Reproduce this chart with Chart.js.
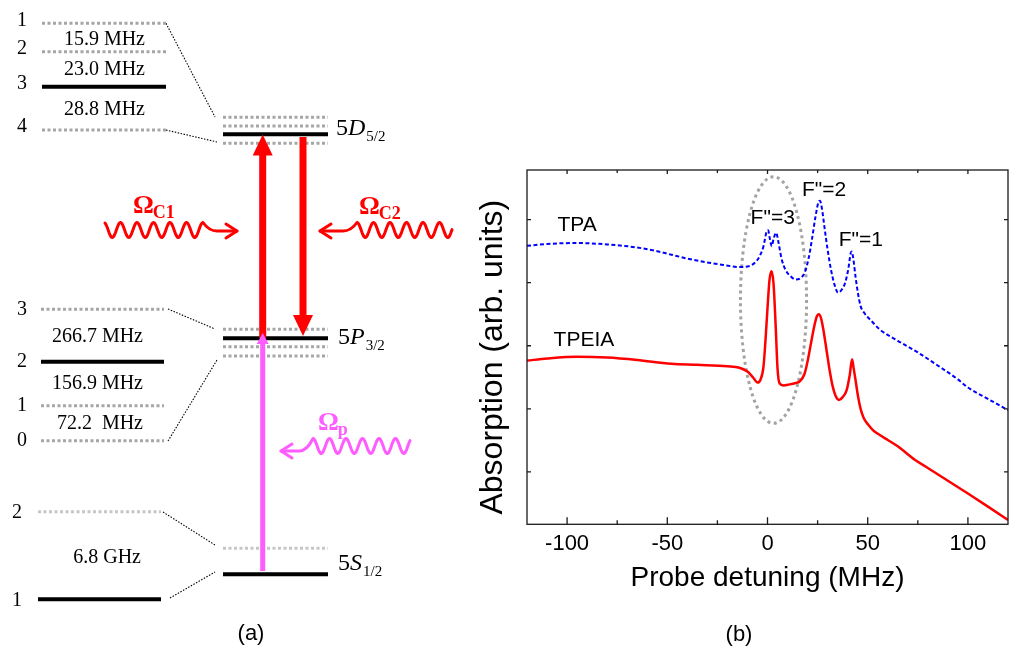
<!DOCTYPE html>
<html>
<head>
<meta charset="utf-8">
<script src="https://cdn.jsdelivr.net/npm/chart.js@4.4.1/dist/chart.umd.min.js"></script>
<style>
  html, body { margin: 0; padding: 0; background: #fff; }
  #wrap { position: relative; width: 1009px; height: 649px; overflow: hidden; background: #fff; }
  #levels { position: absolute; left: 0; top: 0; }
  #spectrum { position: absolute; left: 470px; top: 0; }
</style>
</head>
<body>
<div id="wrap">
  <canvas id="levels" width="470" height="649"></canvas>
  <canvas id="spectrum" width="539" height="649"></canvas>
</div>
<script>
// ---------- (b) spectra ----------
const tpaDetuning = [-120, -110, -96, -80, -66, -56, -48, -40, -31, -22, -14, -9, -6, -4, -2, -0.5, 0.3, 1.2, 2.1, 3, 4.3, 5.5, 7, 9, 11.5, 14, 16.5, 18.5, 20.5, 22.2, 24, 25.5, 26.2, 27.2, 28.5, 30, 31.7, 33.5, 35.2, 37, 38.7, 40.3, 41.5, 42, 42.8, 43.9, 45.2, 46.5, 48.5, 52, 56, 65, 75, 85, 95, 100, 110, 120];
const tpaAbsorption = [78.6, 79.1, 79.4, 79.0, 78.2, 77.2, 76.1, 75.0, 74.0, 73.2, 72.6, 72.9, 74.0, 75.6, 78.5, 82.5, 83.0, 80.5, 78.5, 80.5, 82.3, 79.5, 75.0, 71.8, 70.0, 69.1, 69.5, 71.0, 75.0, 80.5, 87.0, 91.0, 91.3, 89.0, 83.5, 77.5, 71.8, 67.5, 65.4, 66.2, 68.1, 72.0, 76.5, 77.0, 75.0, 70.0, 65.0, 61.5, 59.5, 57.3, 55.0, 51.8, 48.5, 44.8, 40.9, 38.6, 35.4, 32.2];

const tpeiaDetuning = [-120, -110, -95, -80, -65, -48, -35, -20, -14, -10, -7, -5, -3.5, -2, -1, 0, 1, 2, 3, 4, 5, 6, 8, 11, 14, 16, 18.5, 20, 21.5, 23, 24.5, 25.6, 26.8, 28, 29.5, 31, 32.5, 34, 35.7, 37.5, 39.5, 41, 42.2, 43, 43.9, 45.2, 46.5, 48, 50, 52.6, 56, 60, 65, 73.5, 80, 90, 100, 110, 120];
const tpeiaAbsorption = [46.2, 46.8, 47.3, 47.1, 46.4, 45.3, 45.0, 44.6, 44.2, 43.1, 41.3, 40.0, 40.8, 44.5, 52, 61, 69, 71.4, 68, 57, 44, 39.8, 39.2, 39.5, 39.9, 40.3, 42.5, 46, 50.5, 55, 58.5, 59.3, 58, 54.5, 49, 43.5, 39, 36.2, 35.1, 35.9, 37.9, 42, 46.6, 44, 40.8, 36, 32.5, 30, 28.3, 26.6, 25.2, 23.8, 22.0, 18.2, 15.9, 12.3, 8.7, 5.0, 1.2];

const xTicks = [-100, -50, 0, 50, 100];
const xMinorTicks = [-75, -25, 25, 75];
const yTicks = [14.8, 32.6, 50.4, 68.2, 86.0];

const curveLabels = ['TPA', 'TPEIA', 'F"=3', 'F"=2', 'F"=1'];
const curveLabelX = [-95, -91.6, 2.6, 28.2, 46.6];
const curveLabelY = [84.3, 52.0, 86.5, 94.3, 80.3];

// dotted ring around the F"=3 feature (detuning range, absorption range)
const ringX = [-13.5, 19.5];
const ringY = [28.5, 98.1];

// ---------- (a) level scheme ----------
const fNames5D = ['1', '2', '3', '4'];
const fLevels5D = [23.3, 51.7, 86.7, 130];
const split5D = ['15.9 MHz', '23.0 MHz', '28.8 MHz'];
const splitY5D = [40, 70, 110];
const main5D = [117.3, 126, 134.3, 143.3];

const fNames5P = ['3', '2', '1', '0'];
const fLevels5P = [309.3, 361.7, 405.7, 440.7];
const split5P = ['266.7 MHz', '156.9 MHz', '72.2  MHz'];
const splitY5P = [337, 384, 424];
const main5P = [329.3, 338.3, 346.7, 356];

const fNames5S = ['2', '1'];
const fLevels5S = [511.7, 599.3];
const split5S = ['6.8 GHz'];
const splitY5S = [558];
const main5S = [548.3, 574.3];

const links = [
  [166, 23.3, 215, 117], [166, 130, 217, 142],
  [168, 309, 215, 329], [168, 441, 217, 360],
  [163, 512, 215, 545], [170, 598, 215, 572]
];

const couplingArrows = [{ x: 262.7, from: 338, tip: 134.5 }, { x: 303, from: 137, tip: 336 }];
const probeArrow = { x: 262.7, from: 571, tip: 333 };

const beams = [
  { name: 'C1', x0: 105, x1: 203, y: 230, tipX: 237, tipY: 231, labelX: 133, labelY: 213 },
  { name: 'C2', x0: 452, x1: 357, y: 230, tipX: 320, tipY: 231, labelX: 359, labelY: 214 },
  { name: 'p', x0: 410, x1: 313, y: 446, tipX: 281, tipY: 451, labelX: 318, labelY: 430 }
];

const sans = '"Liberation Sans", Arial, Helvetica, sans-serif';
const serif = '"Liberation Serif", "Times New Roman", Times, serif';
const RED = '#ff0000';
const PINK = '#ff5cff';

// ----- build level segments for the diagram chart -----
const segments = [];
function pushLevels(ys, xs, solidIndex, other) {
  ys.forEach((v, i) => {
    segments.push({ kind: i === solidIndex ? 'solid' : other, pts: [{ x: xs[0], y: v }, { x: xs[1], y: v }] });
  });
}
pushLevels(fLevels5D, [42, 166], 2, 'dotted');
pushLevels(main5D, [223, 328], 2, 'dotted');
pushLevels(fLevels5P, [41, 164], 1, 'dotted');
pushLevels(main5P, [223, 328], 1, 'dotted');
pushLevels(fLevels5S, [38, 161], 1, 'light');
pushLevels(main5S, [223, 328], 1, 'light');
links.forEach(l => segments.push({ kind: 'link', pts: [{ x: l[0], y: l[1] }, { x: l[2], y: l[3] }] }));

const segStyle = {
  solid: { borderColor: '#000', borderWidth: 4, borderDash: [] },
  dotted: { borderColor: '#a6a6a6', borderWidth: 3, borderDash: [3, 2.5] },
  light: { borderColor: '#c6c6c6', borderWidth: 3, borderDash: [3, 2.5] },
  link: { borderColor: '#000', borderWidth: 1.1, borderDash: [1.5, 1.5] }
};

function solidArrow(ctx, x, y0, y1, color, w, headW, headL) {
  const dir = Math.sign(y1 - y0);
  const base = y1 - dir * headL;
  ctx.fillStyle = color;
  ctx.fillRect(x - w / 2, Math.min(y0, base + dir), w, Math.abs(base + dir - y0));
  ctx.beginPath();
  ctx.moveTo(x, y1);
  ctx.lineTo(x - headW / 2, base);
  ctx.lineTo(x + headW / 2, base);
  ctx.closePath();
  ctx.fill();
}

function wavyArrow(ctx, b, X, Y, color) {
  const dir = Math.sign(b.tipX - b.x1);
  const amp = 7.5, wave = 16.5;
  ctx.strokeStyle = color;
  ctx.lineWidth = 3;
  ctx.lineJoin = 'round';
  ctx.lineCap = 'round';
  ctx.beginPath();
  const n = 160;
  for (let i = 0; i <= n; i++) {
    const px = b.x0 + (b.x1 - b.x0) * i / n;
    const py = b.y - amp * Math.cos(2 * Math.PI * (px - b.x1) / wave);
    if (i === 0) ctx.moveTo(X(px), Y(py)); else ctx.lineTo(X(px), Y(py));
  }
  ctx.quadraticCurveTo(X(b.x1 + dir * 6), Y(b.tipY), X(b.x1 + dir * 14), Y(b.tipY));
  ctx.lineTo(X(b.tipX), Y(b.tipY));
  ctx.stroke();
  ctx.beginPath();
  ctx.moveTo(X(b.tipX - dir * 11), Y(b.tipY - 7));
  ctx.lineTo(X(b.tipX), Y(b.tipY));
  ctx.lineTo(X(b.tipX - dir * 11), Y(b.tipY + 7));
  ctx.stroke();
}

function stateName(ctx, x, baseline, n, letter, sub) {
  ctx.textAlign = 'left';
  ctx.textBaseline = 'alphabetic';
  ctx.font = '24px ' + serif;
  ctx.fillText(n, x, baseline);
  let w = ctx.measureText(n).width;
  ctx.font = 'italic 24px ' + serif;
  ctx.fillText(letter, x + w, baseline);
  w += ctx.measureText(letter).width;
  ctx.font = '15px ' + serif;
  ctx.fillText(sub, x + w + 1, baseline + 6);
}

const levelArt = {
  id: 'levelArt',
  afterDatasetsDraw(chart) {
    const { ctx, scales: { x, y } } = chart;
    const X = v => x.getPixelForValue(v);
    const Y = v => y.getPixelForValue(v);
    ctx.save();

    couplingArrows.forEach(a => solidArrow(ctx, X(a.x), Y(a.from), Y(a.tip), RED, 7, 20, 21));
    solidArrow(ctx, X(probeArrow.x), Y(probeArrow.from), Y(probeArrow.tip), PINK, 5, 12, 11);

    beams.forEach(b => {
      const c = b.name === 'p' ? PINK : RED;
      wavyArrow(ctx, b, X, Y, c);
      ctx.fillStyle = c;
      ctx.textAlign = 'left';
      ctx.textBaseline = 'alphabetic';
      ctx.font = 'bold 26px ' + serif;
      ctx.fillText('\u03A9', X(b.labelX), Y(b.labelY));
      const w = ctx.measureText('\u03A9').width;
      ctx.font = 'bold 18px ' + serif;
      ctx.fillText(b.name, X(b.labelX) + w - 1, Y(b.labelY) + 5);
    });

    // hyperfine numbers and splittings
    ctx.fillStyle = '#000';
    ctx.font = '20px ' + serif;
    ctx.textBaseline = 'middle';
    ctx.textAlign = 'center';
    fNames5D.forEach((t, i) => ctx.fillText(t, X(22), Y(fLevels5D[i] - 3)));
    fNames5P.forEach((t, i) => ctx.fillText(t, X(22), Y(fLevels5P[i])));
    fNames5S.forEach((t, i) => ctx.fillText(t, X(17), Y(fLevels5S[i] + 1)));
    ctx.textAlign = 'right';
    split5D.forEach((t, i) => ctx.fillText(t, X(145), Y(splitY5D[i])));
    split5P.forEach((t, i) => ctx.fillText(t, X(143), Y(splitY5P[i])));
    split5S.forEach((t, i) => ctx.fillText(t, X(141), Y(splitY5S[i])));

    stateName(ctx, X(336), Y(135), '5', 'D', '5/2');
    stateName(ctx, X(338), Y(344), '5', 'P', '3/2');
    stateName(ctx, X(338), Y(570), '5', 'S', '1/2');

    ctx.font = '22px ' + sans;
    ctx.textAlign = 'center';
    ctx.textBaseline = 'middle';
    ctx.fillText('(a)', X(251), Y(634));
    ctx.restore();
  }
};

new Chart(document.getElementById('levels'), {
  type: 'scatter',
  data: {
    datasets: segments.map(s => Object.assign({
      data: s.pts, showLine: true, pointRadius: 0, borderCapStyle: 'butt'
    }, segStyle[s.kind]))
  },
  options: {
    responsive: false,
    animation: false,
    events: [],
    layout: { padding: 0 },
    plugins: { legend: { display: false }, tooltip: { enabled: false } },
    scales: {
      x: { type: 'linear', min: 0, max: 470, display: false },
      y: { type: 'linear', min: 0, max: 649, reverse: true, display: false }
    }
  },
  plugins: [levelArt]
});

// ----- (b) spectrum chart -----
const frameAndNotes = {
  id: 'frameAndNotes',
  beforeDatasetsDraw(chart) {
    const { ctx, scales: { x, y } } = chart;
    const cx = x.getPixelForValue((ringX[0] + ringX[1]) / 2);
    const cy = y.getPixelForValue((ringY[0] + ringY[1]) / 2);
    const rx = Math.abs(x.getPixelForValue(ringX[1]) - cx);
    const ry = Math.abs(y.getPixelForValue(ringY[1]) - cy);
    ctx.save();
    ctx.strokeStyle = '#a3a3a3';
    ctx.lineWidth = 3;
    ctx.setLineDash([3, 3.5]);
    ctx.beginPath();
    ctx.ellipse(cx, cy, rx, ry, 0, 0, 2 * Math.PI);
    ctx.stroke();
    ctx.restore();
  },
  afterDraw(chart) {
    const { ctx, chartArea: a, scales: { x, y } } = chart;
    ctx.save();
    ctx.strokeStyle = '#1a1a1a';
    ctx.lineWidth = 1.3;
    ctx.strokeRect(a.left, a.top, a.right - a.left, a.bottom - a.top);
    ctx.beginPath();
    xTicks.forEach(v => {
      const p = x.getPixelForValue(v);
      ctx.moveTo(p, a.bottom); ctx.lineTo(p, a.bottom - 7);
      ctx.moveTo(p, a.top); ctx.lineTo(p, a.top + 4);
    });
    xMinorTicks.forEach(v => {
      const p = x.getPixelForValue(v);
      ctx.moveTo(p, a.bottom); ctx.lineTo(p, a.bottom - 4);
      ctx.moveTo(p, a.top); ctx.lineTo(p, a.top + 3);
    });
    yTicks.forEach(v => {
      const p = y.getPixelForValue(v);
      ctx.moveTo(a.left, p); ctx.lineTo(a.left + 4, p);
      ctx.moveTo(a.right, p); ctx.lineTo(a.right - 4, p);
    });
    ctx.stroke();

    ctx.fillStyle = '#000';
    ctx.font = '21px ' + sans;
    ctx.textAlign = 'center';
    ctx.textBaseline = 'middle';
    curveLabels.forEach((t, i) => {
      ctx.fillText(t, x.getPixelForValue(curveLabelX[i]), y.getPixelForValue(curveLabelY[i]));
    });

    // y-axis title, set a little below the plot centre as in the figure
    ctx.translate(a.left - 34, (a.top + a.bottom) / 2 + 10);
    ctx.rotate(-Math.PI / 2);
    ctx.font = '32px ' + sans;
    ctx.fillText('Absorption (arb. units)', 0, 0);
    ctx.restore();
  }
};

new Chart(document.getElementById('spectrum'), {
  type: 'scatter',
  data: {
    datasets: [
      {
        label: 'TPA',
        data: tpaDetuning.map((v, i) => ({ x: v, y: tpaAbsorption[i] })),
        showLine: true,
        borderColor: '#0000ff',
        borderWidth: 2,
        borderDash: [4, 2.5],
        pointRadius: 0,
        cubicInterpolationMode: 'monotone'
      },
      {
        label: 'TPEIA',
        data: tpeiaDetuning.map((v, i) => ({ x: v, y: tpeiaAbsorption[i] })),
        showLine: true,
        borderColor: RED,
        borderWidth: 2.5,
        pointRadius: 0,
        cubicInterpolationMode: 'monotone'
      }
    ]
  },
  options: {
    responsive: false,
    animation: false,
    events: [],
    layout: { padding: { top: 170, right: 1, bottom: 0, left: 0 } },
    plugins: {
      legend: { display: false },
      tooltip: { enabled: false },
      title: {
        display: true,
        position: 'bottom',
        text: '(b)',
        color: '#000',
        font: { family: sans, size: 22, weight: 'normal' },
        padding: { top: 0, bottom: 1 }
      }
    },
    scales: {
      x: {
        type: 'linear',
        min: -120,
        max: 120,
        afterBuildTicks: s => { s.ticks = xTicks.map(v => ({ value: v })); },
        afterFit: s => { s.height = 97.3; },
        grid: { display: false, drawTicks: false },
        border: { display: false },
        ticks: { color: '#000', font: { family: sans, size: 22 }, padding: 6, maxRotation: 0, callback: v => String(v) },
        title: {
          display: true,
          text: 'Probe detuning (MHz)',
          color: '#000',
          font: { family: sans, size: 28 },
          padding: { top: 0, bottom: 27 }
        }
      },
      y: {
        type: 'linear',
        min: 0,
        max: 100,
        afterBuildTicks: s => { s.ticks = yTicks.map(v => ({ value: v })); },
        afterFit: s => { s.width = 57; },
        grid: { display: false, drawTicks: false },
        border: { display: false },
        ticks: { display: false },
        title: { display: false }
      }
    }
  },
  plugins: [frameAndNotes]
});
</script>
</body>
</html>
